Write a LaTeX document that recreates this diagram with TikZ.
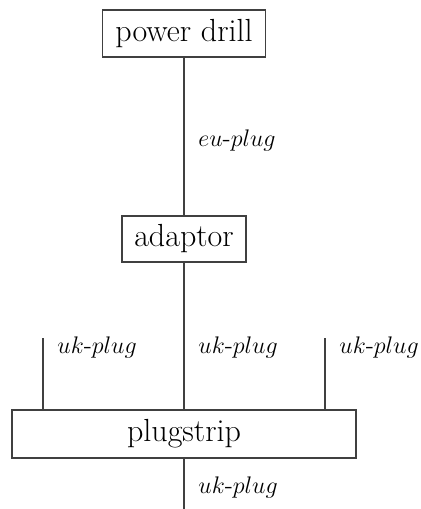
\documentclass[tikz,border=0pt]{standalone}
\usetikzlibrary{positioning}

\tikzset{
  part/.style={draw, thick, draw=black!75, inner sep=0pt, font=\fontsize{16}{19}\selectfont},
  plug/.style={anchor=west, inner sep=0pt, font=\fontsize{12.5}{15}\selectfont},
  wire/.style={draw=black!75, thick}
}

\begin{document}
\begin{tikzpicture}[x=1pt, y=1pt]
  % power drill, adaptor, plugstrip
    \useasboundingbox (0,0) rectangle (210.5,-254.5);
    \node[part, minimum width=81.5pt, minimum height=23.5pt] (drill) at (92,-16.75) {power drill};
    \node[part, minimum width=62pt, minimum height=23pt] (adaptor) at (92,-119.5) {adaptor};
    \node[part, minimum width=172pt, minimum height=24pt] (strip) at (92,-217) {plugstrip};
    \coordinate (lefttop) at (21.5,-169);
    \coordinate (righttop) at (162.5,-169);
    \coordinate (bottom) at (92,-254.5);
    \draw[wire] (drill) -- (adaptor);
    \draw[wire] (adaptor) -- (strip);
    \draw[wire] (lefttop) -- (lefttop |- strip.north);
    \draw[wire] (righttop) -- (righttop |- strip.north);
    \draw[wire] (strip) -- (bottom);
    \node[plug] (eulabel) at (99,-70) {$eu$-$plug$};
    \node[plug] (leftlabel) at (28.5,-173.5) {$uk$-$plug$};
    \node[plug] (midlabel) at (99,-173.5) {$uk$-$plug$};
    \node[plug] (rightlabel) at (169.5,-173.5) {$uk$-$plug$};
    \node[plug] (bottomlabel) at (99,-243.5) {$uk$-$plug$};
  \end{tikzpicture}
\end{document}
